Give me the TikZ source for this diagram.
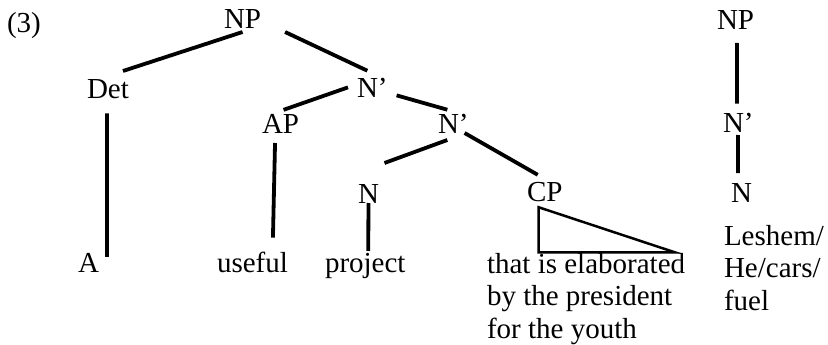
\documentclass[tikz,border=0pt]{standalone}
\usepackage{fontspec}
\setmainfont{Liberation Serif}
\begin{document}
\begin{tikzpicture}[x=1pt,y=-1pt,
  lab/.style={anchor=base west,inner sep=0pt,outer sep=0pt,font=\fontsize{29}{32.5}\selectfont},
  edge/.style={line width=3.8pt},
  tri/.style={line width=2.5pt,line join=miter}]
\useasboundingbox (0,0) rectangle (828,345);
% labels
\node[lab] (ex) at (7,33) {(3)};
\node[lab] (NP) at (224,29) {NP};
\node[lab] (Det) at (87,99) {Det};
\node[lab] (N1) at (357,98) {N’};
\node[lab] (AP) at (262,133) {AP};
\node[lab] (N2) at (438,133) {N’};
\node[lab] (Nl) at (358,203) {N};
\node[lab] (CP) at (527,201) {CP};
\node[lab] (A) at (78,272) {A};
\node[lab] (useful) at (217,272) {useful};
\node[lab] (project) at (325,272) {project};
\node[lab,align=left] (cpt) at (487,338) {that is elaborated\\by the president\\for the youth};
\node[lab] (NPr) at (717,30) {NP};
\node[lab] (N1r) at (723,132) {N’};
\node[lab] (Nr) at (731,202) {N};
\node[lab,align=left] (lesh) at (724,310) {Leshem/\\He/cars/\\fuel};
% edges
\draw[edge] ([shift={(0,3)}]NP.south) -- ([shift={(15,-9)}]Det.north);
\draw[edge] ([shift={(24,3)}]NP.south east) -- ([shift={(-5,-8)}]N1.north);
\draw[edge] ([shift={(-9,-1)}]N1.west) -- ([shift={(3,-4)}]AP.north);
\draw[edge] ([shift={(9,7)}]N1.east) -- ([shift={(-6,-4)}]N2.north);
\draw[edge] ([shift={(-6,7)}]N2.south) -- ([shift={(16,-21)}]Nl.north);
\draw[edge] ([shift={(-4,0)}]N2.south east) -- ([shift={(-7,-7)}]CP.north);
\draw[edge] ([shift={(-1,14)}]Det.south) -- ([shift={(8,4)}]A.north east);
\draw[edge] ([shift={(-5.5,10)}]AP.south) -- ([shift={(20.5,-14)}]useful.north);
\draw[edge] (Nl.south) -- ([shift={(3,-2)}]project.north);
\draw[tri] ([shift={(-6,6)}]CP.south) -- ([shift={(-6,51)}]CP.south) -- ([shift={(130,51)}]CP.south) -- cycle;
\draw[edge] ([shift={(1.5,13)}]NPr.south) -- ([shift={(-1.3,-9)}]N1r.north);
\draw[edge] ([shift={(-0.3,3)}]N1r.south) -- ([shift={(-3.5,-10)}]Nr.north);
\end{tikzpicture}
\end{document}
